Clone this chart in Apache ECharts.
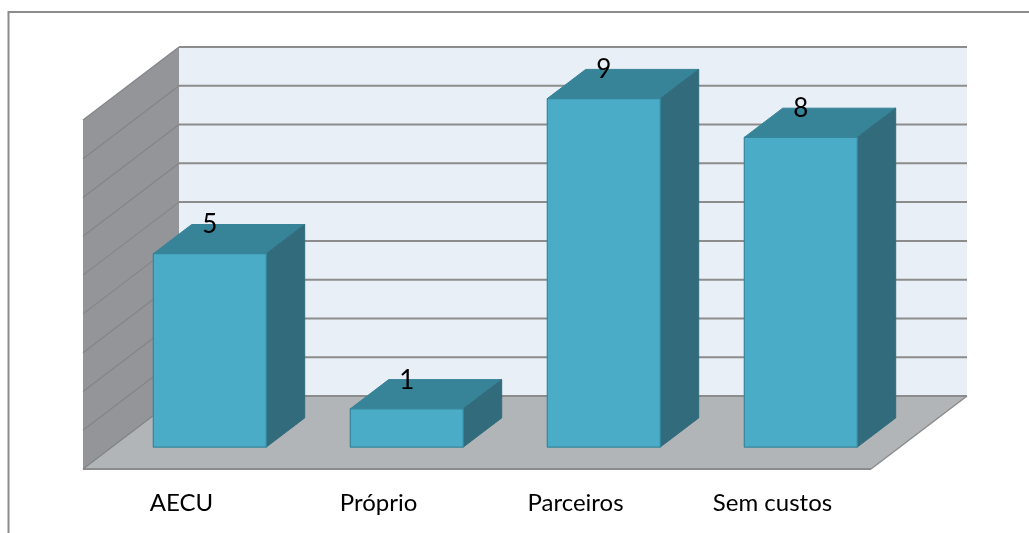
<!DOCTYPE html>
<html><head><meta charset="utf-8">
<style>html,body{margin:0;padding:0;background:#fff}#c{width:1029px;height:533px}</style>
<script src="https://cdn.jsdelivr.net/npm/echarts@6/dist/echarts.min.js"></script>
</head><body><div id="c"></div>
<script>
const categories = ['AECU', 'Próprio', 'Parceiros', 'Sem custos'];
const values = [5, 1, 9, 8];
const wallTicks = [0, 1, 2, 3, 4, 5, 6, 7, 8, 9];

const DEPTH_X = 96, DEPTH_Y = -73;      // full floor depth in pixels
const BAR_NEAR = 0.3, BAR_FAR = 0.7;    // bar position within floor depth
const BAR_WIDTH = 113;
const COL = {
  wall: '#e8eff6', side: '#939598', floor: '#b1b5b8', line: '#8c8c8c', sideLine: '#848588',
  front: '#4aacc7', frontEdge: '#36859b', top: '#378398', right: '#326c7c', text: '#000'
};

function poly(points, fill, stroke, lw, z2) {
  return {type: 'polygon', z2: z2 || 0, shape: {points},
    style: {fill: fill, stroke: stroke || null, lineWidth: lw || 0, lineJoin: 'round'}};
}
function seg(x1, y1, x2, y2, color, lw) {
  return {type: 'line', shape: {x1, y1, x2, y2}, style: {stroke: color, lineWidth: lw}};
}

function renderRoom(params, api) {
  const g = params.coordSys;
  const L = g.x, R = g.x + g.width, B = g.y + g.height, T = g.y;
  const dx = DEPTH_X, dy = DEPTH_Y;
  return {type: 'group', children: [
    poly([[L+dx, T+dy], [R+dx, T+dy], [R+dx, B+dy], [L+dx, B+dy]], COL.wall),
    poly([[L, T], [L+dx, T+dy], [L+dx, B+dy], [L, B]], COL.side),
    poly([[L, B], [R, B], [R+dx, B+dy], [L+dx, B+dy]], COL.floor),
    seg(L, B, R, B, COL.line, 2),
    seg(R, B, R+dx, B+dy, COL.line, 1.5),
    seg(L, B, L+dx, B+dy, COL.sideLine, 1)
  ]};
}

function renderTick(params, api) {
  const g = params.coordSys;
  const y = api.coord([0, api.value(0)])[1];
  const L = g.x, R = g.x + g.width;
  const dx = DEPTH_X, dy = DEPTH_Y;
  return {type: 'group', children: [
    seg(L, y, L+dx, y+dy, COL.sideLine, 1.2),
    seg(L+dx, y+dy, R+dx, y+dy, COL.line, 2)
  ]};
}

function renderBar(params, api) {
  const cat = api.value(0), val = api.value(1);
  const c = api.coord([cat, val]), o = api.coord([cat, 0]);
  const nx = DEPTH_X * BAR_NEAR, ny = DEPTH_Y * BAR_NEAR;
  const fx = DEPTH_X * (BAR_FAR - BAR_NEAR), fy = DEPTH_Y * (BAR_FAR - BAR_NEAR);
  const x0 = c[0] + nx - BAR_WIDTH / 2 - 0.5, x1 = x0 + BAR_WIDTH;
  const y0 = c[1] + ny + 0.5, y1 = o[1] + ny;
  return {type: 'group', children: [
    poly([[x0, y0], [x1, y0], [x1+fx, y0+fy], [x0+fx, y0+fy]], COL.top, COL.top, 1),
    poly([[x1, y0], [x1+fx, y0+fy], [x1+fx, y1+fy], [x1, y1]], COL.right, COL.right, 1),
    poly([[x0, y0], [x1, y0], [x1, y1], [x0, y1]], COL.front, COL.frontEdge, 1.2),
    {type: 'text', z2: 10, style: {
      text: String(val), x: (x0 + x1) / 2, y: y0 + fy + 0.5,
      fill: COL.text, font: '26px Lato', align: 'center', verticalAlign: 'middle'
    }}
  ]};
}

const chart = echarts.init(document.getElementById('c'));
chart.setOption({
  animation: false,
  backgroundColor: '#fff',
  grid: {left: 83, width: 788, top: 120, height: 349},
  xAxis: {
    type: 'category', data: categories,
    axisLine: {show: false}, axisTick: {show: false}, splitLine: {show: false},
    axisLabel: {color: '#000', fontFamily: 'Lato', fontSize: 24, margin: 22, interval: 0}
  },
  yAxis: {type: 'value', min: 0, max: 9, interval: 1, show: false, splitLine: {show: false}},
  graphic: [{
    type: 'polyline', silent: true, z: -1,
    shape: {points: [[8.5, 533], [8.5, 12], [1029, 12]]},
    style: {stroke: COL.line, lineWidth: 2, fill: null}
  }],
  series: [
    {type: 'custom', name: 'room', z: 1, clip: false, silent: true, data: [[0]], renderItem: renderRoom},
    {type: 'custom', name: 'ticks', z: 2, clip: false, silent: true, data: wallTicks.map(v => [v]),
      encode: {y: 0}, renderItem: renderTick},
    {type: 'custom', name: 'bars', z: 3, clip: false, silent: true,
      data: values.map((v, i) => [i, v]), encode: {x: 0, y: 1}, renderItem: renderBar}
  ]
});
</script></body></html>
